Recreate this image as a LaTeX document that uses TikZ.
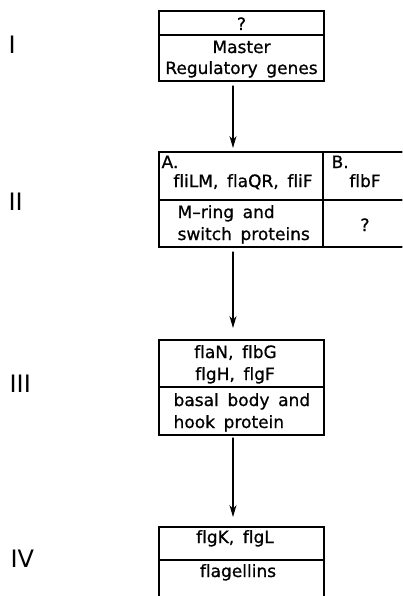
\documentclass[tikz,border=0pt]{standalone}
\usepackage{fontspec}
\setmainfont{DejaVu Sans}[WordSpace=1.6, Ligatures=CommonOff]
\newfontfamily\boxfont{DejaVu Sans}[WordSpace=1.6, Ligatures=CommonOff, FakeBold=0.8]
\usetikzlibrary{arrows.meta,positioning}

\begin{document}
\begin{tikzpicture}[x=1pt, y=-1pt, line width=1.2pt, line cap=round,
  cell/.style={minimum width=165pt, inner sep=0pt, outer sep=0pt},
  txt/.style={font=\boxfont\fontsize{17}{21}\selectfont, inner sep=0pt, anchor=base},
  stage/.style={font=\fontsize{24}{24}\selectfont, inner sep=0pt, anchor=base west},
  arr/.style={-{Stealth[length=12pt,width=7pt]}, line width=1.1pt}]
  \useasboundingbox (0,0) rectangle (402,596);
  % stage numerals
  \node[stage] (sI)   at (8,54)  {I};
  \node[stage] (sII)  at (8,210) {II};
  \node[stage] (sIII) at (9,392) {III};
  \node[stage] (sIV)  at (10,567) {IV};
  % column of the arrows
  \coordinate (ax) at (233,0);
  % box I
  \node[cell, draw, minimum height=24pt] (I1) at (241.5,23) {};
  \node[cell, draw, minimum height=46pt, below=0pt of I1] (I2) {};
  \node[txt] (qI) at (241.5,30) {?};
  \node[txt] (masterI) at (241.5,53) {Master};
  \node[txt] (regI) at (241.5,74) {Regulatory genes};
  % box II (A and B, open to the right)
  \node[cell, draw, minimum width=164pt, minimum height=48pt] (A1) at (241,176) {};
  \node[cell, draw, minimum width=164pt, minimum height=47pt, below=0pt of A1] (A2) {};
  \node[cell, minimum width=79pt, minimum height=48pt, right=0pt of A1] (B1) {};
  \node[cell, minimum width=79pt, minimum height=47pt, below=0pt of B1] (B2) {};
  \draw (B1.north west) -- (B1.north east);
  \draw (B2.north west) -- (B2.north east);
  \draw (B2.south west) -- (B2.south east);
  \node[txt, anchor=base west] (labA) at (161,168) {A.};
  \node[txt] (genesA) at (243,187) {fliLM, flaQR, fliF};
  \node[txt, anchor=base west] (ringA) at (177,218) {M–ring and};
  \node[txt, anchor=base west] (switchA) at (177,240) {switch proteins};
  \node[txt, anchor=base west] (labB) at (331,168) {B.};
  \node[txt] (genesB) at (365,187) {flbF};
  \node[txt] (qB) at (365,231) {?};
  % box III
  \node[cell, draw, minimum height=47pt] (III1) at (241.5,363.5) {};
  \node[cell, draw, minimum height=48pt, below=0pt of III1] (III2) {};
  \node[txt] (genesIIIa) at (235.5,358) {flaN, flbG};
  \node[txt] (genesIIIb) at (235,380) {flgH, flgF};
  \node[txt, anchor=base west] (basalIII) at (173,406) {basal body and};
  \node[txt, anchor=base west] (hookIII) at (173,428) {hook protein};
  % box IV (open at the bottom)
  \node[cell, draw, minimum height=33pt] (IV1) at (241.5,543.5) {};
  \node[cell, minimum height=40pt, below=0pt of IV1] (IV2) {};
  \draw (IV2.south west) -- (IV2.north west);
  \draw (IV2.north east) -- (IV2.south east);
  \node[txt] (genesIV) at (235,543) {flgK, flgL};
  \node[txt] (flagIV) at (238,577) {flagellins};
  % arrows between the stages
  \draw[arr] ([yshift=-5pt]I2.south -| ax) -- ([yshift=4pt]A1.north -| ax);
  \draw[arr] ([yshift=-5pt]A2.south -| ax) -- ([yshift=12pt]III1.north -| ax);
  \draw[arr] ([yshift=-3pt]III2.south -| ax) -- ([yshift=10pt]IV1.north -| ax);
\end{tikzpicture}
\end{document}
